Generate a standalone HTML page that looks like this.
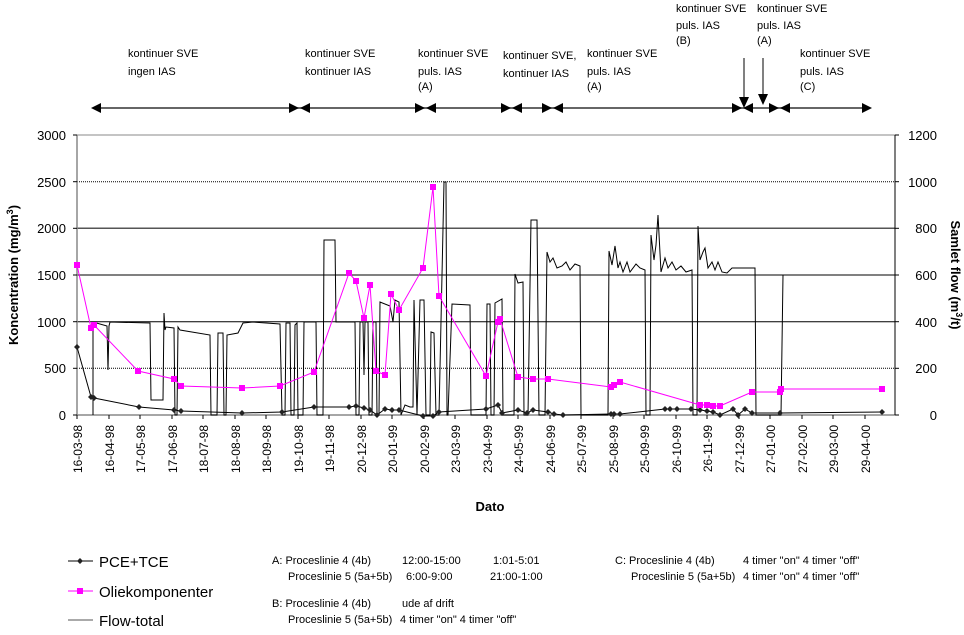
<!DOCTYPE html>
<html><head><meta charset="utf-8"><style>
body{margin:0;background:#fff}
svg{font-family:"Liberation Sans",Arial,sans-serif}
</style></head><body>
<svg width="964" height="630" viewBox="0 0 964 630" xmlns="http://www.w3.org/2000/svg">
<rect width="964" height="630" fill="#fff"/>
<!-- gridlines -->
<g stroke="#000" stroke-width="1">
<line x1="77" y1="181.7" x2="895" y2="181.7" stroke-dasharray="1,1"/>
<line x1="77" y1="228.3" x2="895" y2="228.3" stroke="#555" stroke-width="1.5"/>
<line x1="77" y1="275" x2="895" y2="275"/>
<line x1="77" y1="321.7" x2="895" y2="321.7"/>
<line x1="77" y1="368.3" x2="895" y2="368.3" stroke-dasharray="1,1"/>
</g>
<line x1="77" y1="135" x2="895" y2="135" stroke="#888"/>
<line x1="77" y1="415" x2="895" y2="415" stroke="#888" stroke-width="1.5"/>
<line x1="77" y1="135" x2="77" y2="415" stroke="#888" stroke-width="1.5"/>
<line x1="895" y1="135" x2="895" y2="415" stroke="#000"/>
<!-- y ticks -->
<g stroke="#000">
<line x1="73" y1="135" x2="77" y2="135"/><line x1="73" y1="181.7" x2="77" y2="181.7"/><line x1="73" y1="228.3" x2="77" y2="228.3"/><line x1="73" y1="275" x2="77" y2="275"/><line x1="73" y1="321.7" x2="77" y2="321.7"/><line x1="73" y1="368.3" x2="77" y2="368.3"/><line x1="73" y1="415" x2="77" y2="415"/>
<line x1="895" y1="135" x2="899" y2="135"/><line x1="895" y1="181.7" x2="899" y2="181.7"/><line x1="895" y1="228.3" x2="899" y2="228.3"/><line x1="895" y1="275" x2="899" y2="275"/><line x1="895" y1="321.7" x2="899" y2="321.7"/><line x1="895" y1="368.3" x2="899" y2="368.3"/><line x1="895" y1="415" x2="899" y2="415"/>
</g>
<g font-size="13" text-anchor="end" fill="#000">
<text x="66" y="140">3000</text><text x="66" y="187">2500</text><text x="66" y="233">2000</text><text x="66" y="280">1500</text><text x="66" y="327">1000</text><text x="66" y="373">500</text><text x="66" y="420">0</text>
</g>
<g font-size="13" text-anchor="end" fill="#000">
<text x="937" y="140">1200</text><text x="937" y="187">1000</text><text x="937" y="233">800</text><text x="937" y="280">600</text><text x="937" y="327">400</text><text x="937" y="373">200</text><text x="937" y="420">0</text>
</g>
<text transform="translate(18,275) rotate(-90)" font-size="13" font-weight="bold" text-anchor="middle">Koncentration (mg/m<tspan font-size="9" dy="-5">3</tspan><tspan dy="5">)</tspan></text>
<text transform="translate(951,275) rotate(90)" font-size="13" font-weight="bold" text-anchor="middle">Samlet flow (m<tspan font-size="9" dy="-5">3</tspan><tspan dy="5">/t)</tspan></text>
<text x="490" y="511" font-size="13" font-weight="bold" text-anchor="middle">Dato</text>
<!-- x ticks and labels -->
<g font-size="12" fill="#000">
<g id="xl"></g>
</g>
<g stroke="#000">
<line x1="77" y1="415" x2="77" y2="419"/><line x1="109" y1="415" x2="109" y2="419"/><line x1="140" y1="415" x2="140" y2="419"/><line x1="172" y1="415" x2="172" y2="419"/><line x1="203" y1="415" x2="203" y2="419"/><line x1="235" y1="415" x2="235" y2="419"/><line x1="266" y1="415" x2="266" y2="419"/><line x1="298" y1="415" x2="298" y2="419"/><line x1="329" y1="415" x2="329" y2="419"/><line x1="361" y1="415" x2="361" y2="419"/><line x1="392" y1="415" x2="392" y2="419"/><line x1="424" y1="415" x2="424" y2="419"/><line x1="455" y1="415" x2="455" y2="419"/><line x1="487" y1="415" x2="487" y2="419"/><line x1="518" y1="415" x2="518" y2="419"/><line x1="550" y1="415" x2="550" y2="419"/><line x1="581" y1="415" x2="581" y2="419"/><line x1="613" y1="415" x2="613" y2="419"/><line x1="644" y1="415" x2="644" y2="419"/><line x1="676" y1="415" x2="676" y2="419"/><line x1="707" y1="415" x2="707" y2="419"/><line x1="739" y1="415" x2="739" y2="419"/><line x1="770" y1="415" x2="770" y2="419"/><line x1="802" y1="415" x2="802" y2="419"/><line x1="833" y1="415" x2="833" y2="419"/><line x1="865" y1="415" x2="865" y2="419"/>
</g>
<g font-size="12" text-anchor="end">
<text transform="translate(82,425) rotate(-90)">16-03-98</text>
<text transform="translate(114,425) rotate(-90)">16-04-98</text>
<text transform="translate(145,425) rotate(-90)">17-05-98</text>
<text transform="translate(177,425) rotate(-90)">17-06-98</text>
<text transform="translate(208,425) rotate(-90)">18-07-98</text>
<text transform="translate(240,425) rotate(-90)">18-08-98</text>
<text transform="translate(271,425) rotate(-90)">18-09-98</text>
<text transform="translate(303,425) rotate(-90)">19-10-98</text>
<text transform="translate(334,425) rotate(-90)">19-11-98</text>
<text transform="translate(366,425) rotate(-90)">20-12-98</text>
<text transform="translate(397,425) rotate(-90)">20-01-99</text>
<text transform="translate(429,425) rotate(-90)">20-02-99</text>
<text transform="translate(460,425) rotate(-90)">23-03-99</text>
<text transform="translate(492,425) rotate(-90)">23-04-99</text>
<text transform="translate(523,425) rotate(-90)">24-05-99</text>
<text transform="translate(555,425) rotate(-90)">24-06-99</text>
<text transform="translate(586,425) rotate(-90)">25-07-99</text>
<text transform="translate(618,425) rotate(-90)">25-08-99</text>
<text transform="translate(649,425) rotate(-90)">25-09-99</text>
<text transform="translate(681,425) rotate(-90)">26-10-99</text>
<text transform="translate(712,425) rotate(-90)">26-11-99</text>
<text transform="translate(744,425) rotate(-90)">27-12-99</text>
<text transform="translate(775,425) rotate(-90)">27-01-00</text>
<text transform="translate(807,425) rotate(-90)">27-02-00</text>
<text transform="translate(838,425) rotate(-90)">29-03-00</text>
<text transform="translate(870,425) rotate(-90)">29-04-00</text>
</g>
<!-- flow -->
<polyline fill="none" stroke="#000" stroke-width="1" points="93,415 93,322 107,326 108,370 109,326 110,322 150,323 151,400 163,400 164,313 165,330 166,327 174,328 175,415 177,415 178,327 180,330 210,335 211,415 217,415 218,333 223,333 224,415 226,415 227,335 238,333 243,323 253,322 280,324 282,415 285,415 286,323 290,323 291,415 294,415 295,325 297,323 298,415 303,415 304,322 316,322 317,415 323,415 324,240 335,240 336,322 355,322 356,415 359,415 360,322 363,322 364,375 365,322 368,322 369,415 372,415 373,322 376,322 377,415 379,415 380,302 390,306 393,322 395,300 399,302 401,415 405,405 410,407 413,407 414,300 417,415 420,300 424,300 426,415 430,415 431,332 434,333 436,415 439,415 444,182 446,182 447,415 448,415 452,304 470,305 471,415 486,415 487,304 490,304 491,415 494,415 495,303 502,299 503,415 514,415 515,274 518,283 523,282 524,415 528,415 531,220 537,220 539,415 545,415 547,252 550,262 553,258 557,268 562,266 566,262 570,270 575,264 580,266 581,415 608,415 609,251 612,265 615,246 618,268 620,262 623,272 627,262 630,272 636,264 640,268 645,270 646,415 650,415 651,235 654,260 656,245 658,215 661,272 665,258 668,268 672,262 676,270 681,266 686,272 692,270 693,415 697,415 698,226 700,260 703,252 705,248 708,268 712,262 715,270 718,262 722,272 727,273 732,268 755,268 756,415 781,415 783,275"/>
<!-- PCE+TCE -->
<polyline fill="none" stroke="#000" stroke-width="1" points="77,347 91,397 94,398 139,407 174,410 181,411 242,413 282,412 314,407 349,407 356,406 364,408 370,410 377,415 385,409 392,410 399,410 423,416 433,416 439,412 486,409 498,405 502,413 518,410 527,413 533,410 548,412 554,414 563,415 611,414 614,414 620,414 665,409 670,409 677,409 691,409 700,410 707,411 713,412 720,415 733,409 738,415 745,409 752,413 780,413 882,412"/>
<g fill="#222" id="pce">
<path d="M77,344l3,3l-3,3l-3,-3z"/><path d="M91,394l3,3l-3,3l-3,-3z"/><path d="M94,395l3,3l-3,3l-3,-3z"/><path d="M139,404l3,3l-3,3l-3,-3z"/><path d="M174,407l3,3l-3,3l-3,-3z"/><path d="M181,408l3,3l-3,3l-3,-3z"/><path d="M242,410l3,3l-3,3l-3,-3z"/><path d="M282,409l3,3l-3,3l-3,-3z"/><path d="M314,404l3,3l-3,3l-3,-3z"/><path d="M349,404l3,3l-3,3l-3,-3z"/><path d="M356,403l3,3l-3,3l-3,-3z"/><path d="M364,405l3,3l-3,3l-3,-3z"/><path d="M370,407l3,3l-3,3l-3,-3z"/><path d="M377,412l3,3l-3,3l-3,-3z"/><path d="M385,406l3,3l-3,3l-3,-3z"/><path d="M392,407l3,3l-3,3l-3,-3z"/><path d="M399,407l3,3l-3,3l-3,-3z"/><path d="M423,413l3,3l-3,3l-3,-3z"/><path d="M433,413l3,3l-3,3l-3,-3z"/><path d="M439,409l3,3l-3,3l-3,-3z"/><path d="M486,406l3,3l-3,3l-3,-3z"/><path d="M498,402l3,3l-3,3l-3,-3z"/><path d="M502,410l3,3l-3,3l-3,-3z"/><path d="M518,407l3,3l-3,3l-3,-3z"/><path d="M527,410l3,3l-3,3l-3,-3z"/><path d="M533,407l3,3l-3,3l-3,-3z"/><path d="M548,409l3,3l-3,3l-3,-3z"/><path d="M554,411l3,3l-3,3l-3,-3z"/><path d="M563,412l3,3l-3,3l-3,-3z"/><path d="M611,411l3,3l-3,3l-3,-3z"/><path d="M614,411l3,3l-3,3l-3,-3z"/><path d="M620,411l3,3l-3,3l-3,-3z"/><path d="M665,406l3,3l-3,3l-3,-3z"/><path d="M670,406l3,3l-3,3l-3,-3z"/><path d="M677,406l3,3l-3,3l-3,-3z"/><path d="M691,406l3,3l-3,3l-3,-3z"/><path d="M700,407l3,3l-3,3l-3,-3z"/><path d="M707,408l3,3l-3,3l-3,-3z"/><path d="M713,409l3,3l-3,3l-3,-3z"/><path d="M720,412l3,3l-3,3l-3,-3z"/><path d="M733,406l3,3l-3,3l-3,-3z"/><path d="M738,412l3,3l-3,3l-3,-3z"/><path d="M745,406l3,3l-3,3l-3,-3z"/><path d="M752,410l3,3l-3,3l-3,-3z"/><path d="M780,410l3,3l-3,3l-3,-3z"/><path d="M882,409l3,3l-3,3l-3,-3z"/>
</g>
<!-- Oliekomponenter -->
<polyline fill="none" stroke="#ff00ff" stroke-width="1" points="77,265 91,328 94,325 138,371 174,379 181,386 242,388 280,386 314,372 349,273 356,281 364,318 370,285 376,371 385,375 391,294 399,310 423,268 433,187 439,296 486,376 498,322 500,319 518,377 533,379 548,379 611,387 614,385 620,382 700,405 707,405 713,406 720,406 752,392 780,392 781,389 882,389"/>
<g fill="#ff00ff">
<rect x="74" y="262" width="6" height="6"/><rect x="88" y="325" width="6" height="6"/><rect x="91" y="322" width="6" height="6"/><rect x="135" y="368" width="6" height="6"/><rect x="171" y="376" width="6" height="6"/><rect x="178" y="383" width="6" height="6"/><rect x="239" y="385" width="6" height="6"/><rect x="277" y="383" width="6" height="6"/><rect x="311" y="369" width="6" height="6"/><rect x="346" y="270" width="6" height="6"/><rect x="353" y="278" width="6" height="6"/><rect x="361" y="315" width="6" height="6"/><rect x="367" y="282" width="6" height="6"/><rect x="373" y="368" width="6" height="6"/><rect x="382" y="372" width="6" height="6"/><rect x="388" y="291" width="6" height="6"/><rect x="396" y="307" width="6" height="6"/><rect x="420" y="265" width="6" height="6"/><rect x="430" y="184" width="6" height="6"/><rect x="436" y="293" width="6" height="6"/><rect x="483" y="373" width="6" height="6"/><rect x="495" y="319" width="6" height="6"/><rect x="497" y="316" width="6" height="6"/><rect x="515" y="374" width="6" height="6"/><rect x="530" y="376" width="6" height="6"/><rect x="545" y="376" width="6" height="6"/><rect x="608" y="384" width="6" height="6"/><rect x="611" y="382" width="6" height="6"/><rect x="617" y="379" width="6" height="6"/><rect x="697" y="402" width="6" height="6"/><rect x="704" y="402" width="6" height="6"/><rect x="710" y="403" width="6" height="6"/><rect x="717" y="403" width="6" height="6"/><rect x="749" y="389" width="6" height="6"/><rect x="777" y="389" width="6" height="6"/><rect x="778" y="386" width="6" height="6"/><rect x="879" y="386" width="6" height="6"/>
</g>
<!-- top annotation arrows -->
<line x1="93" y1="108" x2="870" y2="108" stroke="#333" stroke-width="1.5"/>
<g fill="#000">
<path d="M91,108l10,-5v10z"/>
<path d="M299,108l-10,-5v10z"/><path d="M300,108l10,-5v10z"/>
<path d="M425,108l-10,-5v10z"/><path d="M426,108l10,-5v10z"/>
<path d="M511,108l-10,-5v10z"/><path d="M512,108l10,-5v10z"/>
<path d="M552,108l-10,-5v10z"/><path d="M553,108l10,-5v10z"/>
<path d="M742,108l-10,-5v10z"/><path d="M743,108l10,-5v10z"/>
<path d="M779,108l-10,-5v10z"/><path d="M780,108l10,-5v10z"/>
<path d="M872,108l-10,-5v10z"/>
<path d="M744,108l-5,-11h10z"/><path d="M763,105l-5,-11h10z"/>
</g>
<line x1="744" y1="58" x2="744" y2="100" stroke="#000"/>
<line x1="763" y1="58" x2="763" y2="97" stroke="#000"/>
<g font-size="11" fill="#000">
<text x="128" y="57">kontinuer SVE</text><text x="128" y="75">ingen IAS</text>
<text x="305" y="57">kontinuer SVE</text><text x="305" y="75">kontinuer IAS</text>
<text x="418" y="57">kontinuer SVE</text><text x="418" y="75">puls. IAS</text><text x="418" y="90">(A)</text>
<text x="503" y="59">kontinuer SVE,</text><text x="503" y="77">kontinuer IAS</text>
<text x="587" y="57">kontinuer SVE</text><text x="587" y="75">puls. IAS</text><text x="587" y="90">(A)</text>
<text x="676" y="12">kontinuer SVE</text><text x="676" y="29">puls. IAS</text><text x="676" y="44">(B)</text>
<text x="757" y="12">kontinuer SVE</text><text x="757" y="29">puls. IAS</text><text x="757" y="44">(A)</text>
<text x="800" y="57">kontinuer SVE</text><text x="800" y="75">puls. IAS</text><text x="800" y="90">(C)</text>
</g>
<!-- legend -->
<line x1="68" y1="561" x2="93" y2="561" stroke="#000"/><path d="M80,558l3,3l-3,3l-3,-3z" fill="#222"/>
<text x="99" y="567" font-size="15">PCE+TCE</text>
<line x1="68" y1="591" x2="93" y2="591" stroke="#ff00ff"/><rect x="77" y="588" width="6" height="6" fill="#ff00ff"/>
<text x="99" y="597" font-size="15">Oliekomponenter</text>
<line x1="68" y1="620" x2="93" y2="620" stroke="#555"/>
<text x="99" y="626" font-size="15">Flow-total</text>
<g font-size="11" fill="#000">
<text x="272" y="564">A: Proceslinie 4 (4b)</text><text x="402" y="564">12:00-15:00</text><text x="493" y="564">1:01-5:01</text>
<text x="288" y="580">Proceslinie 5 (5a+5b)</text><text x="406" y="580">6:00-9:00</text><text x="490" y="580">21:00-1:00</text>
<text x="272" y="607">B: Proceslinie 4 (4b)</text><text x="402" y="607">ude af drift</text>
<text x="288" y="623">Proceslinie 5 (5a+5b)</text><text x="400" y="623">4 timer "on" 4 timer "off"</text>
<text x="615" y="564">C: Proceslinie 4 (4b)</text><text x="743" y="564">4 timer "on" 4 timer "off"</text>
<text x="631" y="580">Proceslinie 5 (5a+5b)</text><text x="743" y="580">4 timer "on" 4 timer "off"</text>
</g>
</svg>
</body></html>
